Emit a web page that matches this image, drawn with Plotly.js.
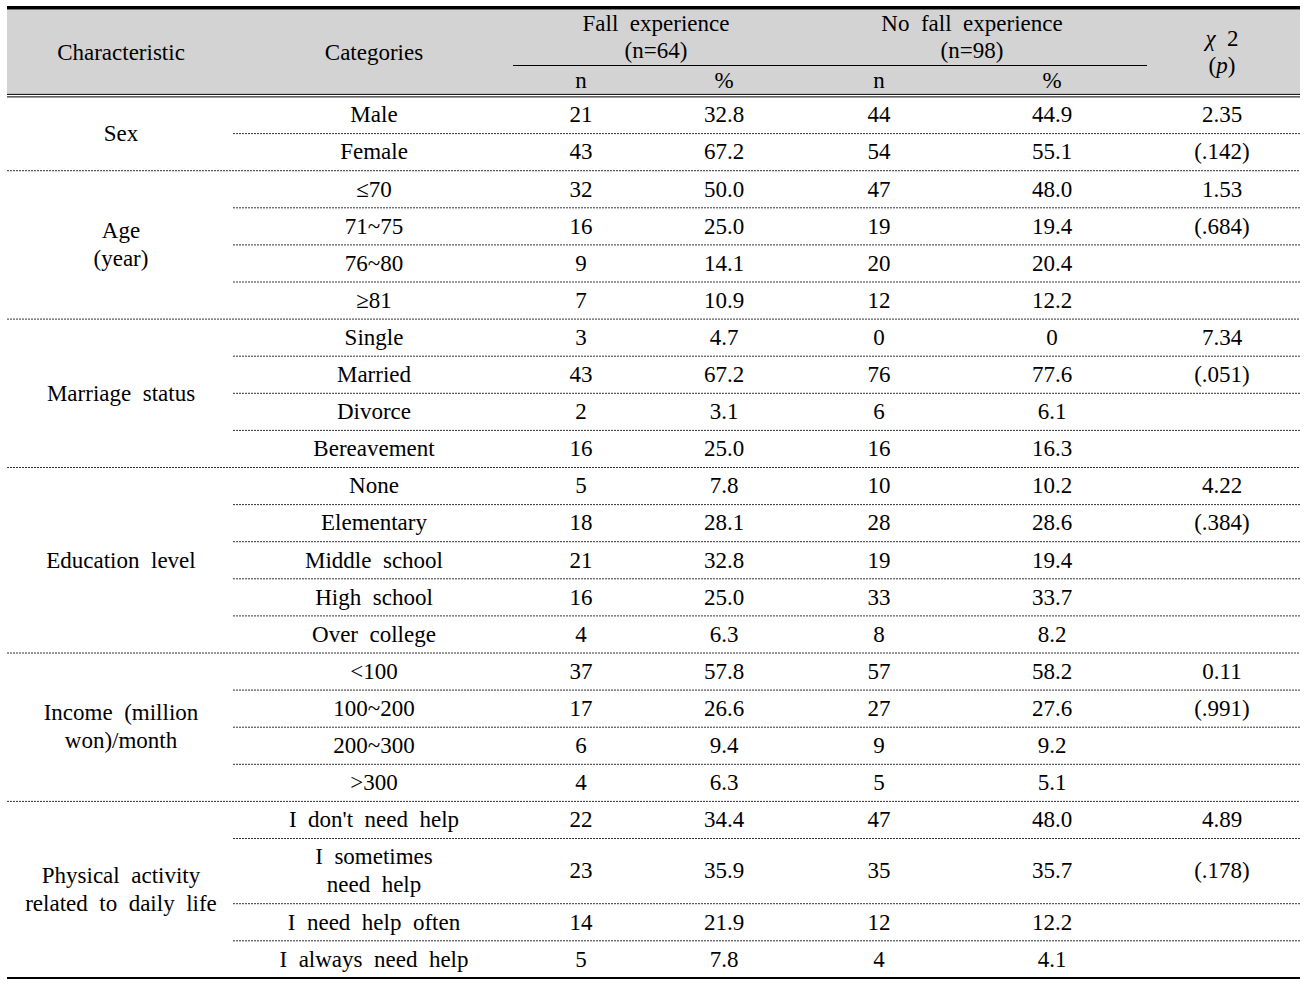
<!DOCTYPE html>
<html>
<head>
<meta charset="utf-8">
<script src="https://cdn.plot.ly/plotly-3.0.1.min.js"></script>
<style>html,body{margin:0;padding:0;background:#fff;}#chart{width:1310px;height:988px;}</style>
</head>
<body>
<div id="chart"></div>
<script>
// ---------- DATA ----------
const characteristics = ["Sex", "Age<br>(year)", "Marriage  status", "Education  level", "Income  (million<br>won)/month", "Physical  activity<br>related  to  daily  life"];
const groupSizes = [2, 4, 4, 5, 4, 4];
const categories = ["Male", "Female", "≤70", "71~75", "76~80", "≥81", "Single", "Married", "Divorce", "Bereavement", "None", "Elementary", "Middle  school", "High  school", "Over  college", "<100", "100~200", "200~300", ">300", "I  don't  need  help", "I  sometimes<br>need  help", "I  need  help  often", "I  always  need  help"];
const fallN = ["21", "43", "32", "16", "9", "7", "3", "43", "2", "16", "5", "18", "21", "16", "4", "37", "17", "6", "4", "22", "23", "14", "5"];
const fallPct = ["32.8", "67.2", "50.0", "25.0", "14.1", "10.9", "4.7", "67.2", "3.1", "25.0", "7.8", "28.1", "32.8", "25.0", "6.3", "57.8", "26.6", "9.4", "6.3", "34.4", "35.9", "21.9", "7.8"];
const noFallN = ["44", "54", "47", "19", "20", "12", "0", "76", "6", "16", "10", "28", "19", "33", "8", "57", "27", "9", "5", "47", "35", "12", "4"];
const noFallPct = ["44.9", "55.1", "48.0", "19.4", "20.4", "12.2", "0", "77.6", "6.1", "16.3", "10.2", "28.6", "19.4", "33.7", "8.2", "58.2", "27.6", "9.2", "5.1", "48.0", "35.7", "12.2", "4.1"];
const chiSquare = ["2.35", "1.53", "7.34", "4.22", "0.11", "4.89"];
const pValues = ["(.142)", "(.684)", "(.051)", "(.384)", "(.991)", "(.178)"];
const headerLabels = ["Characteristic", "Categories", "Fall  experience<br>(n=64)", "No  fall  experience<br>(n=98)", "<i>χ</i>  2<br>(<i>p</i>)", "n", "%", "n", "%"];

// ---------- LAYOUT CONSTANTS ----------
const W = 1310, H = 988;
const colX = {chr: 121, cat: 374, fn: 581, fp: 724, nn: 879, np: 1052, chi: 1222};
const tableL = 7, tableR = 1300, catL = 233;
const bodyTop = 96.5, rowH = 37.1, tallH = 65.2, lineGap = 28, yShift = 1.5;
const FONT = {family: "Liberation Serif, Times New Roman, serif", size: 23, color: "#000"};

// row geometry
const rowTop = [], rowMid = [], rowBot = [];
let y = bodyTop;
categories.forEach(c => {
  const h = c.split("<br>").length > 1 ? tallH : rowH;
  rowTop.push(y); rowMid.push(y + h / 2); y += h; rowBot.push(y);
});
const groupStart = [];
let gi = 0;
groupSizes.forEach(s => { groupStart.push(gi); gi += s; });

const nb = s => s.replace(/  /g, " \u00a0");

const traces = [];
function textTrace(xs, ys, texts, gap) {
  const X = [], Y = [], T = [];
  texts.forEach((t, i) => {
    const lines = t.split("<br>");
    const g = gap === undefined ? lineGap : gap;
    lines.forEach((ln, j) => {
      X.push(xs[i]);
      Y.push(ys[i] + yShift + (j - (lines.length - 1) / 2) * g);
      T.push(nb(ln));
    });
  });
  traces.push({type: "scatter", mode: "text", x: X, y: Y, text: T,
    textposition: "middle center", textfont: FONT, hoverinfo: "skip", showlegend: false, cliponaxis: false});
}
// body columns
const rowsIdx = categories.map((_, i) => i);
textTrace(rowsIdx.map(() => colX.cat), rowMid, categories);
textTrace(rowsIdx.map(() => colX.fn), rowMid, fallN);
textTrace(rowsIdx.map(() => colX.fp), rowMid, fallPct);
textTrace(rowsIdx.map(() => colX.nn), rowMid, noFallN);
textTrace(rowsIdx.map(() => colX.np), rowMid, noFallPct);
// characteristics centered in group
textTrace(groupStart.map(() => colX.chr),
  groupStart.map((s, k) => (rowTop[s] + rowBot[s + groupSizes[k] - 1]) / 2), characteristics);
// chi square on first row, p on second row
textTrace(groupStart.map(() => colX.chi), groupStart.map(s => rowMid[s]), chiSquare);
textTrace(groupStart.map(() => colX.chi), groupStart.map(s => rowMid[s + 1]), pValues);
// header
textTrace([colX.chr, colX.cat, 656, 972, colX.chi, colX.fn, colX.fp, colX.nn, colX.np],
  [52.5, 52.5, 37, 37, 52, 81, 81, 81, 81], headerLabels, 27.5);

// ---------- SHAPES ----------
const shapes = [];
shapes.push({type: "rect", xref: "x", yref: "y", x0: tableL, x1: tableR, y0: 9.5, y1: 94, fillcolor: "#d3d3d3", line: {width: 0}, layer: "below"});
shapes.push({type: "line", xref: "x", yref: "y", x0: tableL, x1: tableR, y0: 7.7, y1: 7.7, line: {color: "#000", width: 3.5}});
shapes.push({type: "line", xref: "x", yref: "y", x0: tableL, x1: tableR, y0: 94.4, y1: 94.4, line: {color: "#000", width: 1}});
shapes.push({type: "line", xref: "x", yref: "y", x0: tableL, x1: tableR, y0: 96.9, y1: 96.9, line: {color: "#000", width: 1}});
shapes.push({type: "line", xref: "x", yref: "y", x0: 513, x1: 1147, y0: 65.5, y1: 65.5, line: {color: "#000", width: 1}});
const groupEnds = new Set(groupStart.map((s, k) => s + groupSizes[k] - 1));
rowBot.forEach((yb, i) => {
  if (i === rowBot.length - 1) {
    shapes.push({type: "line", xref: "x", yref: "y", x0: tableL, x1: tableR, y0: yb, y1: yb, line: {color: "#000", width: 2}});
  } else {
    const full = groupEnds.has(i);
    shapes.push({type: "line", xref: "x", yref: "y", x0: full ? tableL : catL, x1: tableR, y0: yb, y1: yb,
      line: {color: "#333", width: 1, dash: "2px,1px"}});
  }
});

const layout = {
  width: W, height: H, margin: {l: 0, r: 0, t: 0, b: 0},
  paper_bgcolor: "#fff", plot_bgcolor: "#fff",
  xaxis: {range: [0, W], visible: false, fixedrange: true},
  yaxis: {range: [H, 0], visible: false, fixedrange: true},
  shapes: shapes, showlegend: false
};
Plotly.newPlot("chart", traces, layout, {displayModeBar: false, staticPlot: true});
</script>
</body>
</html>
